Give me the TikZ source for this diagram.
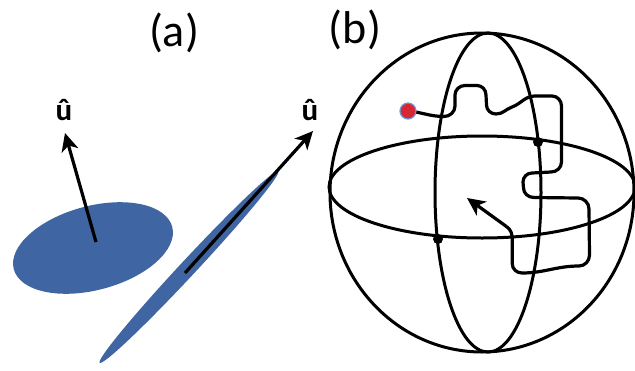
\documentclass[tikz,border=0pt]{standalone}
\usepackage{fontspec}
\setmainfont{Carlito}
\usetikzlibrary{arrows.meta}
\definecolor{discblue}{RGB}{63,101,162}
\definecolor{dotred}{RGB}{214,40,52}
\definecolor{dotrim}{RGB}{110,150,210}

\begin{document}
\begin{tikzpicture}[x=1pt,y=-1pt,line width=3pt,
    vec/.style={-{Stealth[length=18pt,width=17pt,inset=5pt]},line width=3.2pt},
    hatlbl/.style={font=\fontsize{31}{31}\selectfont\bfseries,inner sep=0pt,anchor=base},
    paneltitle/.style={font=\fontsize{46}{46}\selectfont,inner sep=0pt}]
    \useasboundingbox (0,0) rectangle (635,370);

    % 标题
    \node[paneltitle] (ttla) at (174,33) {(a)};
    \node[paneltitle] (ttlb) at (355,30) {(b)};

    % 圆盘和细长椭球
    \fill[discblue,rotate around={15:(93,248)}] (93,248) ellipse [x radius=82,y radius=42];
    \fill[discblue,rotate around={47:(189,267)}] (189,267) ellipse [x radius=131,y radius=8];

    % 方向矢量 u
    \coordinate (disc) at (96,242);
    \coordinate (disctip) at (65,133);
    \coordinate (rod) at (185,273);
    \coordinate (rodtip) at (313,131);
    \draw[vec] (disc) -- (disctip);
    \draw[vec] (rod) -- (rodtip);
    \node[hatlbl] (ua) at (64,120) {û};
    \node[hatlbl] (ub) at (310,120) {û};

    % 球面
    \draw (482,192.5) ellipse [x radius=152,y radius=159.5];
    \draw (488,192.5) ellipse [x radius=53,y radius=159.5];
    \draw (482,187) ellipse [x radius=153,y radius=51];
    \fill (538,142) circle (5);
    \fill (438,239) circle (5);

    % 随机行走路径
    \coordinate (start) at (408,111);
    \coordinate (last) at (506.7,226.7);
    \coordinate (walktip) at (467,198);
    \draw[line width=3.2pt] (start) to[out=-5,in=180] (444,116.5)
        to[out=0,in=-90] (455,106) -- (455,95)
        to[out=90,in=180] (465,85.5) -- (477,85.5)
        to[out=0,in=90] (486,95) -- (486.5,105)
        to[out=-90,in=180] (496,114)
        to[out=0,in=-160] (512,107)
        to[out=20,in=180] (535,96) -- (552,96)
        to[out=0,in=90] (561.5,106) -- (561.5,162)
        to[out=-90,in=0] (551,172) -- (532,173)
        to[out=180,in=90] (523,182) -- (523.5,188)
        to[out=-90,in=180] (534,197.5) -- (578,198)
        to[out=0,in=90] (589,209) -- (589.5,255)
        to[out=-90,in=0] (579,266)
        to[out=180,in=0] (522,273)
        to[out=180,in=-90] (512.3,264) -- (512.3,240)
        to[out=90,in=-36] (last);
    \draw[vec] (last) -- (walktip);
    \filldraw[fill=dotred,draw=dotrim,line width=1.2pt] (start) circle (8);
\end{tikzpicture}
\end{document}
